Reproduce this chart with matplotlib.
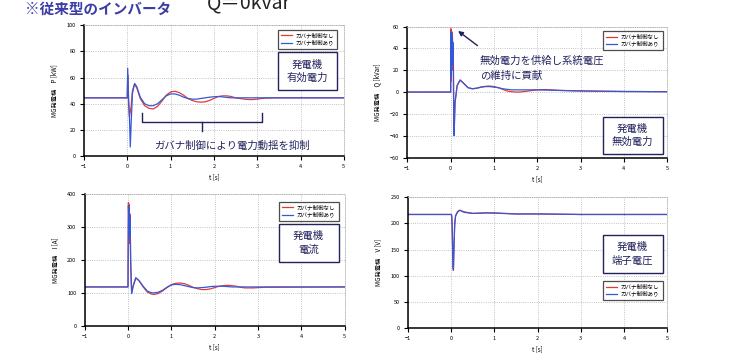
import matplotlib.pyplot as plt
from matplotlib.patches import Rectangle

plt.rcParams['font.family'] = ['Noto Sans CJK JP', 'DejaVu Sans']

# 系列名
series_names = ['ガバナ制御なし', 'ガバナ制御あり']

# 有効電力 P [kW]
t_p = [-1, 0.0, 0.01, 0.03, 0.05, 0.07, 0.09, 0.12, 0.17, 0.22, 0.3, 0.4, 0.5, 0.6,
       0.7, 0.8, 0.9, 1.0, 1.1, 1.2, 1.3, 1.4, 1.5, 1.6, 1.7, 1.8, 1.9, 2.0, 2.1,
       2.2, 2.3, 2.4, 2.5, 2.6, 2.7, 2.8, 2.9, 3.0, 3.1, 3.2, 3.4, 5.0]
p_red = [44.5, 44.5, 62, 40, 30, 34, 38, 50, 55, 52, 44, 38.5, 36.5, 36,
         38, 42, 46.5, 49, 49.5, 48.5, 46.5, 44, 42.5, 41.5, 41.2, 41.5, 42.5, 44, 45.5,
         46, 46, 45.5, 44.5, 44, 43.5, 43.2, 43.2, 43.5, 44, 44.3, 44.5, 44.5]
p_blue = [44.5, 44.5, 67, 45, 30, 7, 25, 48, 55.5, 53, 45, 40, 38.5, 38.5,
          40, 43, 46, 47.5, 47.5, 46.5, 45, 44, 43.5, 43.5, 44, 44.5, 45, 45.3, 45.5,
          45.2, 44.8, 44.5, 44.5, 44.5, 44.5, 44.5, 44.5, 44.5, 44.5, 44.5, 44.5, 44.5]

# 無効電力 Q [kVar]
t_q = [-1, 0.0, 0.005, 0.01, 0.02, 0.03, 0.04, 0.05, 0.06, 0.07, 0.08, 0.1, 0.15,
       0.22, 0.3, 0.4, 0.5, 0.6, 0.7, 0.8, 0.9, 1.0, 1.1, 1.2, 1.3, 1.4, 1.5, 1.6,
       1.7, 1.8, 2.0, 2.2, 2.5, 3.0, 4.0, 5.0]
q_red = [0, 0, 58, 10, 52, 30, 55, 20, 45, -20, -38, -10, 6,
         11, 8, 4, 3, 3.5, 4.5, 5.2, 5.5, 5, 4, 2.5, 1, 0.3, 0, 0,
         0.5, 1, 2, 2.3, 1.5, 1, 0.5, 0.3]
q_blue = [0, 0, 55, 15, 50, 35, 52, 25, 45, -15, -40, -10, 6,
          11, 8, 4, 3, 3.5, 4.5, 5, 5, 4.5, 4, 3, 2.5, 2, 2, 2,
          2, 2, 2, 1.8, 1.5, 1, 0.5, 0.3]

# 電流 I [A]
t_i = [-1, 0.0, 0.01, 0.02, 0.03, 0.04, 0.05, 0.06, 0.07, 0.085, 0.12, 0.18, 0.25,
       0.35, 0.45, 0.55, 0.6, 0.7, 0.8, 0.9, 1.0, 1.1, 1.2, 1.3, 1.4, 1.5, 1.6, 1.7,
       1.8, 1.9, 2.0, 2.1, 2.2, 2.3, 2.4, 2.5, 2.6, 2.7, 2.8, 2.9, 3.0, 3.2, 5.0]
i_red = [118, 118, 375, 300, 370, 250, 340, 200, 150, 100, 120, 145, 138,
         118, 102, 96, 95, 98, 106, 116, 125, 129, 130, 128, 123, 117, 113, 110,
         110, 112, 116, 120, 122, 123, 122, 120, 117, 115, 115, 115, 116, 117, 118]
i_blue = [118, 118, 365, 320, 360, 270, 330, 210, 160, 98, 122, 146, 138,
          120, 105, 100, 100, 102, 108, 117, 124, 126, 125, 122, 119, 116, 115, 116,
          117, 119, 120, 120, 120, 119, 118, 118, 118, 118, 118, 118, 118, 118, 118]

# 端子電圧 V [V]
t_v = [-1, 0.0, 0.01, 0.02, 0.03, 0.04, 0.05, 0.06, 0.08, 0.1, 0.15, 0.2, 0.3,
       0.5, 0.8, 1.0, 1.5, 2.0, 3.0, 5.0]
v_red = [217, 217, 215, 200, 160, 120, 110, 150, 200, 215, 223, 225, 222,
         219, 220, 220, 218, 218, 217, 217]
v_blue = [217, 217, 214, 195, 155, 118, 112, 145, 198, 214, 222, 225, 221,
          219, 220, 219.5, 218, 218, 217, 217]

RED = '#e23a3a'
BLUE = '#3558d8'
NAVY = '#22225e'

fig = plt.figure(figsize=(7.3, 3.54), dpi=100)


def make_axes(rect, t, red, blue, ylim, yticks, ylabel, label_text, label_box, legend_box):
    ax = fig.add_axes(rect)
    ax.plot(t, red, color=RED, lw=0.9, label=series_names[0])
    ax.plot(t, blue, color=BLUE, lw=0.9, label=series_names[1])
    ax.set_xlim(-1, 5)
    ax.set_ylim(*ylim)
    ax.set_xticks(range(-1, 6))
    ax.set_yticks(yticks)
    ax.set_xticklabels(['\u22121' if v == -1 else str(v) for v in range(-1, 6)])
    ax.set_yticklabels([str(v).replace('-', '\u2212') for v in yticks])
    ax.grid(True, ls=':', color='#b0b0b0', lw=0.6)
    ax.tick_params(labelsize=4, length=3, width=0.8, pad=3, color='black')
    for s in ('left', 'bottom'):
        ax.spines[s].set_linewidth(1.1)
        ax.spines[s].set_color('black')
    for s in ('top', 'right'):
        ax.spines[s].set_linestyle(':')
        ax.spines[s].set_color('#b0b0b0')
        ax.spines[s].set_linewidth(0.6)
    ax.set_xlabel('t [s]', fontsize=4.5, labelpad=3)
    ax.set_ylabel(ylabel, fontsize=4.5, labelpad=6)

    # ラベル枠
    x0, y0, x1, y1 = label_box
    ax.add_patch(Rectangle((x0, y0), x1 - x0, y1 - y0, transform=ax.transAxes,
                           facecolor='white', edgecolor=NAVY, lw=1.0, zorder=5))
    ax.text((x0 + x1) / 2, (y0 + y1) / 2, label_text, transform=ax.transAxes,
            ha='center', va='center', fontsize=7.5, color=NAVY, linespacing=1.4, zorder=6)

    # 凡例
    lx0, ly0, lx1, ly1 = legend_box
    leg = ax.legend(loc='upper left', bbox_to_anchor=(lx0, ly0, lx1 - lx0, ly1 - ly0),
                    mode='expand', fontsize=4, frameon=True, fancybox=False,
                    handlelength=2.0, handletextpad=0.6, borderpad=0.55,
                    labelspacing=0.25, borderaxespad=0)
    leg.get_frame().set_edgecolor('#222222')
    leg.get_frame().set_linewidth(0.9)
    leg.set_zorder(6)
    return ax


ax_p = make_axes([0.115, 0.559, 0.356, 0.370], t_p, p_red, p_blue, (0, 100),
                 [0, 20, 40, 60, 80, 100], 'MG発電機　P [kW]', '発電機\n有効電力',
                 (0.746, 0.504, 0.973, 0.794), (0.746, 0.812, 0.973, 0.965))
ax_q = make_axes([0.558, 0.555, 0.356, 0.370], t_q, q_red, q_blue, (-60, 60),
                 [-60, -40, -20, 0, 20, 40, 60], 'MG発電機　Q [kVar]', '発電機\n無効電力',
                 (0.751, 0.028, 0.982, 0.311), (0.751, 0.817, 0.982, 0.967))
ax_i = make_axes([0.116, 0.080, 0.356, 0.371], t_i, i_red, i_blue, (0, 400),
                 [0, 100, 200, 300, 400], 'MG発電機　I [A]', '発電機\n電流',
                 (0.746, 0.485, 0.977, 0.774), (0.746, 0.791, 0.977, 0.944))
ax_v = make_axes([0.559, 0.073, 0.355, 0.370], t_v, v_red, v_blue, (0, 250),
                 [0, 50, 100, 150, 200, 250], 'MG発電機　V [V]', '発電機\n端子電圧',
                 (0.751, 0.422, 0.982, 0.712), (0.751, 0.208, 0.982, 0.361))

# 中括弧と注記（有効電力）
bx0, bx1, bmid = 0.35, 3.1, 1.73
ax_p.plot([bx0, bx0, bx1, bx1], [33, 26, 26, 33], color=NAVY, lw=1.0)
ax_p.plot([bmid, bmid], [26, 19], color=NAVY, lw=1.0)
ax_p.text(2.42, 7.5, 'ガバナ制御により電力動揺を抑制', ha='center', va='center',
          fontsize=7.5, color=NAVY)

# 矢印と注記（無効電力）
ax_q.annotate('', xy=(0.12, 57.5), xytext=(0.67, 41),
              arrowprops=dict(arrowstyle='-|>', color=NAVY, lw=1.0, mutation_scale=7))
ax_q.text(0.67, 33, '無効電力を供給し系統電圧\nの維持に貢献', ha='left', va='top',
          fontsize=7.5, color=NAVY, linespacing=1.6)

# タイトル
fig.text(25 / 730, 1 - 9 / 354, '※従来型のインバータ', ha='left', va='center',
         fontsize=10.5, fontweight='bold', color='#3c3ca6')
fig.text(207 / 730, 1 - 8.5 / 354, 'Q＝0kvar', ha='left', va='baseline',
         fontsize=14, color='#222222')

fig.savefig('out.png', dpi=100)
